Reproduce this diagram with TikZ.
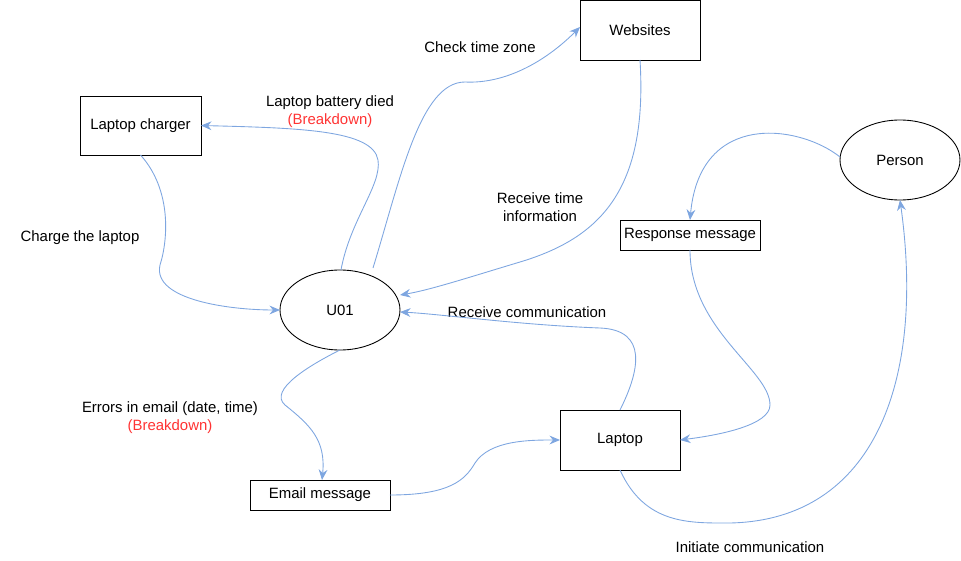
\documentclass[tikz,border=0pt]{standalone}
\usepackage{fontspec}
\setmainfont{Liberation Sans}
\usetikzlibrary{arrows.meta}
\usetikzlibrary{shapes.geometric}
\definecolor{flowblue}{HTML}{7EA6E0}
\definecolor{brkred}{HTML}{FF3333}
\tikzset{%
    box/.style={inner sep=0pt,outer sep=0pt,shape=rectangle,draw,line width=0.5pt,font=\fontsize{8.5}{10.2}\selectfont},
    oval/.style={inner sep=0pt,outer sep=0pt,shape=ellipse,draw,line width=0.5pt,minimum width=2.4cm,minimum height=1.6cm,font=\fontsize{8.5}{10.2}\selectfont},
    flow/.style={-{Stealth[length=6pt,width=5pt,inset=2pt]},draw=flowblue,line width=0.5pt},
    lbl/.style={inner sep=0pt,align=center,font=\fontsize{8.5}{10.2}\selectfont},
}

\begin{document}
\begin{tikzpicture}[x=0.02cm,y=-0.02cm]
        \useasboundingbox (0,0) rectangle (961,561);
        % entities
        \node [box,minimum width=2.42cm,minimum height=1.18cm] (charger) at (140.5,125.5) {Laptop charger};
        \node [box,minimum width=2.4cm,minimum height=1.2cm] (websites) at (640,30) {Websites};
        \node [oval] (u01) at (340,310) {U01};
        \node [oval] (person) at (900,160) {Person};
        \node [box,minimum width=2.8cm,minimum height=0.6cm] (response) at (690,235) {Response message};
        \node [box,minimum width=2.4cm,minimum height=1.2cm] (laptop) at (620,440) {Laptop};
        \node [box,minimum width=2.8cm,minimum height=0.6cm] (email) at (320,495) {Email message};

        % labels
        \node [lbl] (battery) at (330,112) {Laptop battery died\\\textcolor{brkred}{(Breakdown)}};
        \node [lbl] (timezone) at (480,47) {Check time zone};
        \node [lbl] (timeinfo) at (540,207) {Receive time\\information};
        \node [lbl] (charge) at (80,238) {Charge the laptop};
        \node [lbl] (recvcomm) at (527,312) {Receive communication};
        \node [lbl] (errors) at (170,418) {Errors in email (date, time)\\\textcolor{brkred}{(Breakdown)}};
        \node [lbl] (initcomm) at (750,547) {Initiate communication};

        % flows
        \draw [flow] ([xshift=0.02cm]u01.north) .. controls (350,220) and (382,185) .. (378,160)
            .. controls (373,130) and (300,128) .. (charger.east);
        \draw [flow] (u01.north) ++(0.66cm,0.04cm) .. controls (400,180) and (420,82) .. (465,82)
            .. controls (505,84) and (545,62) .. ([yshift=0.06cm]websites.west);
        \draw [flow] (websites.south) .. controls (648,190) and (600,238) .. (520,262)
            .. controls (470,277) and (430,290) .. ([yshift=0.3cm]u01.east);
        \draw [flow] (charger.south) .. controls (172,190) and (168,240) .. (160,265)
            .. controls (152,300) and (230,310) .. (u01.west);
        \draw [flow] (laptop.north) .. controls (640,370) and (648,330) .. (600,328)
            .. controls (520,325) and (440,314) .. ([yshift=-0.04cm]u01.east);
        \draw [flow] (u01.south) .. controls (310,365) and (268,390) .. (285,405)
            .. controls (310,425) and (326,440) .. ([xshift=0.04cm]email.north);
        \draw [flow] (email.east) .. controls (450,495) and (465,480) .. (475,463)
            .. controls (490,440) and (530,440) .. (laptop.west);
        \draw [flow] ([yshift=0.06cm]person.west) .. controls (800,125) and (700,110) .. (response.north);
        \draw [flow] (response.south) .. controls (690,330) and (770,370) .. (770,405)
            .. controls (770,425) and (720,435) .. (laptop.east);
        \draw [flow] (laptop.south) .. controls (645,525) and (690,523) .. (730,523)
            .. controls (875,520) and (925,380) .. (person.south);
    \end{tikzpicture}
\end{document}
